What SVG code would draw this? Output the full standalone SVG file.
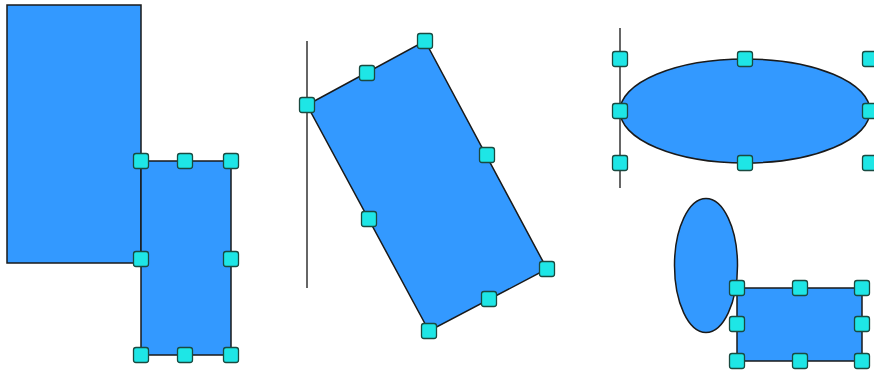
<svg xmlns="http://www.w3.org/2000/svg" width="874" height="372" viewBox="0 0 874 372">
<defs>
<style>
.shape{fill:#3399ff;stroke:#1a1a1a;stroke-width:1.5}
.guide{stroke:#333;stroke-width:1.5;fill:none}
.h{fill:#1ee6e6;stroke:#1a4a40;stroke-width:1.3}
</style>
<rect id="hnd" class="h" x="-7.5" y="-7.5" width="15" height="15" rx="2.5"/>
</defs>
<g id="connectors">
<line class="guide" x1="307" y1="41" x2="307" y2="288"/>
<line class="guide" x1="620" y1="28" x2="620" y2="188"/>
</g>
<g id="bigrect"><rect class="shape" x="7" y="5" width="134" height="258"/></g>
<g id="smallrect1">
<rect class="shape" x="141" y="161" width="90" height="194"/>
<use href="#hnd" x="141" y="161"/><use href="#hnd" x="185" y="161"/><use href="#hnd" x="231" y="161"/>
<use href="#hnd" x="141" y="259"/><use href="#hnd" x="231" y="259"/>
<use href="#hnd" x="141" y="355"/><use href="#hnd" x="185" y="355"/><use href="#hnd" x="231" y="355"/>
</g>
<g id="rotrect">
<polygon class="shape" points="307,105 425,41 547,269 429,331"/>
<use href="#hnd" x="307" y="105"/><use href="#hnd" x="367" y="73"/><use href="#hnd" x="425" y="41"/>
<use href="#hnd" x="487" y="155"/><use href="#hnd" x="547" y="269"/><use href="#hnd" x="489" y="299"/>
<use href="#hnd" x="429" y="331"/><use href="#hnd" x="369" y="219"/>
</g>
<g id="ellipse1">
<ellipse class="shape" cx="745" cy="111" rx="125" ry="52"/>
<use href="#hnd" x="620" y="59"/><use href="#hnd" x="745" y="59"/><use href="#hnd" x="870" y="59"/>
<use href="#hnd" x="620" y="111"/><use href="#hnd" x="870" y="111"/>
<use href="#hnd" x="620" y="163"/><use href="#hnd" x="745" y="163"/><use href="#hnd" x="870" y="163"/>
</g>
<g id="ellipse2"><ellipse class="shape" cx="706" cy="265.5" rx="31.5" ry="67"/></g>
<g id="smallrect2">
<rect class="shape" x="737" y="288" width="125" height="73"/>
<use href="#hnd" x="737" y="288"/><use href="#hnd" x="800" y="288"/><use href="#hnd" x="862" y="288"/>
<use href="#hnd" x="737" y="324"/><use href="#hnd" x="862" y="324"/>
<use href="#hnd" x="737" y="361"/><use href="#hnd" x="800" y="361"/><use href="#hnd" x="862" y="361"/>
</g>
</svg>
